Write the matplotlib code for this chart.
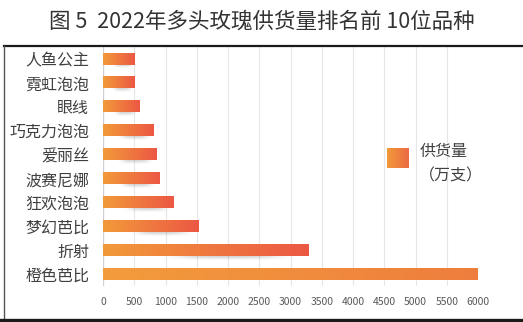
import numpy as np
import matplotlib
matplotlib.use('Agg')
import matplotlib.pyplot as plt
from matplotlib.colors import to_rgb
from matplotlib.lines import Line2D

plt.rcParams['font.family'] = ['Noto Sans CJK SC', 'DejaVu Sans']

# 数据（从上到下）
varieties = ['人鱼公主', '霓虹泡泡', '眼线', '巧克力泡泡', '爱丽丝',
             '波赛尼娜', '狂欢泡泡', '梦幻芭比', '折射', '橙色芭比']
supply = [512, 510, 592, 805, 858, 901, 1136, 1536, 3285, 6000]
xticks = list(range(0, 6001, 500))

title = '图 5  2022年多头玫瑰供货量排名前 10位品种'
legend_label = '供货量\n（万支）'


def gradient(c1, c2, n=256):
    a = np.array(to_rgb(c1))
    b = np.array(to_rgb(c2))
    t = np.linspace(0, 1, n)[:, None]
    return (a + (b - a) * t)[None, :, :]


fig = plt.figure(figsize=(5.23, 3.22), dpi=100)
ax = fig.add_axes([103 / 523, 1 - 286 / 322, 375 / 523, 239 / 322])

h = 0.47
for i, v in enumerate(supply):
    # 阴影
    if i < len(supply) - 1:
        sh = np.zeros((20, 100, 4))
        sh[..., :3] = 0.5
        xs = np.linspace(-1, 1, 100)
        ys = np.linspace(-1, 1, 20)
        sh[..., 3] = 0.32 * np.exp(-(xs[None, :] * 1.5) ** 4) * np.exp(-(ys[:, None] * 1.6) ** 2)
        ax.imshow(sh, extent=(0.25 * v, 0.97 * v, i + h / 2 + 0.16, i + h / 2 - 0.1),
                  aspect='auto', zorder=2, interpolation='bilinear')
        g = gradient('#F29A3A', '#EC5844')
    else:
        g = gradient('#F39C3C', '#EE7E3E')
    ax.imshow(g, extent=(0, v, i + h / 2, i - h / 2), aspect='auto', zorder=3,
              interpolation='bilinear')

ax.set_yticks(range(len(varieties)))
ax.set_yticklabels(varieties, fontsize=11.5, color='#404040')
ax.set_xticks(xticks)
ax.set_xticklabels([str(t) for t in xticks], fontsize=7.5, color='#595959')
ax.tick_params(length=0)
ax.tick_params(axis='y', pad=10)
ax.tick_params(axis='x', pad=8)
for s in ax.spines.values():
    s.set_visible(False)
ax.set_axisbelow(True)
ax.grid(axis='x', color='#E6E6E6', linewidth=0.8)
ax.axvline(0, color='#D0D0D0', linewidth=0.9, zorder=1)

# 图例
lg = gradient('#F29A3A', '#EC6A44')
ax.imshow(lg, extent=(4540, 4890, 4.58, 3.78), aspect='auto', zorder=3)
ax.text(5060, 4.37, legend_label, fontsize=11.5, color='#404040',
        va='center', ha='left', linespacing=1.6)

ax.set_xlim(0, 6000)
ax.set_ylim(len(varieties) - 0.5, -0.5)

fig.text(0.5, 1 - 22 / 322, title, fontsize=15.5, color='#333333', ha='center', va='center')

# 外框
fig.add_artist(Line2D([4 / 523, 1], [1 - 45.5 / 322] * 2, transform=fig.transFigure,
                      color='#1a1a1a', linewidth=1.6))
fig.add_artist(Line2D([4 / 523, 4 / 523], [1 - 45.5 / 322, 1 - 319 / 322],
                      transform=fig.transFigure, color='#555555', linewidth=1.0))
fig.add_artist(Line2D([0, 1], [1 - 319.5 / 322] * 2, transform=fig.transFigure,
                      color='#1a1a1a', linewidth=2.4))

fig.savefig('out.png', dpi=100)
